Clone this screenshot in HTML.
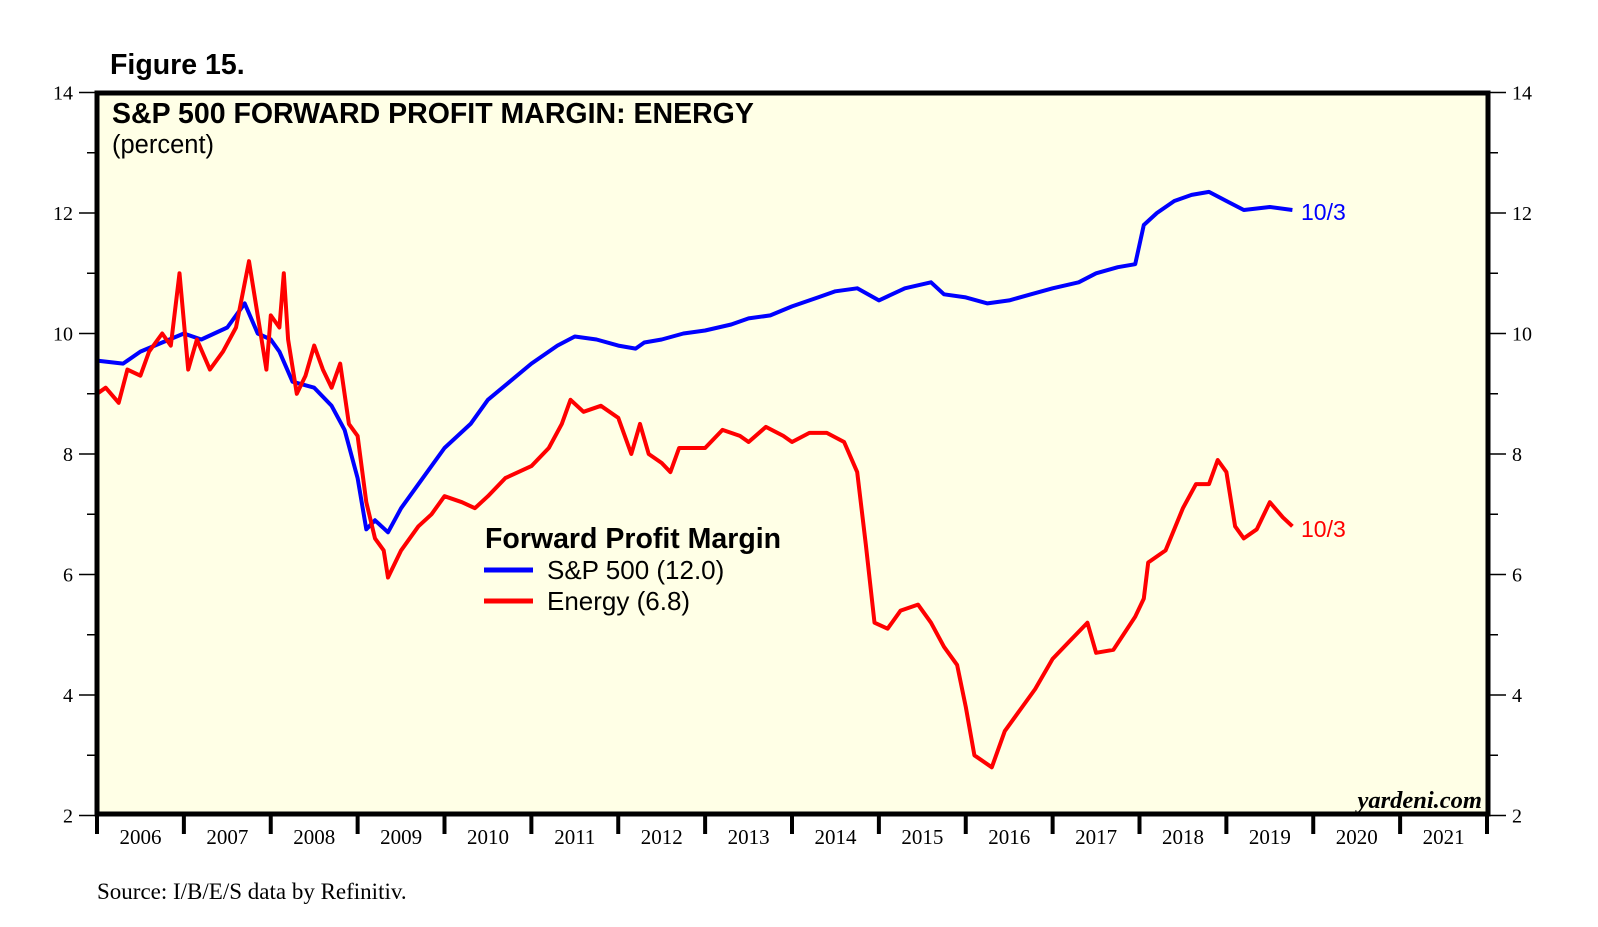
<!DOCTYPE html>
<html><head><meta charset="utf-8"><style>
html,body{margin:0;padding:0;background:#fff;}
svg{display:block;}
.sans{font-family:"Liberation Sans",Arial,sans-serif;}
.serif{font-family:"Liberation Serif","Times New Roman",serif;}
</style></head><body>
<svg id="chart" width="1598" height="927" viewBox="0 0 1598 927" xmlns="http://www.w3.org/2000/svg">
<text x="110" y="74" class="sans" font-size="28.5" font-weight="bold">Figure 15.</text>
<rect x="97" y="93" width="1391" height="721" fill="#ffffe6"/>
<g id="axes"></g>
<g id="series"></g>
<rect x="97" y="93" width="1391" height="721" fill="none" stroke="#000" stroke-width="5"/>
<text x="112" y="123" class="sans" font-size="28.5" font-weight="bold">S&amp;P 500 FORWARD PROFIT MARGIN: ENERGY</text>
<text x="112" y="153" class="sans" font-size="25.5">(percent)</text>
<text x="485" y="548" class="sans" font-size="28.5" font-weight="bold">Forward Profit Margin</text>
<line x1="484" y1="570" x2="533" y2="570" stroke="#0000ff" stroke-width="5"/>
<text x="547" y="579" class="sans" font-size="26">S&amp;P 500 (12.0)</text>
<line x1="484" y1="601" x2="533" y2="601" stroke="#ff0000" stroke-width="5"/>
<text x="547" y="610" class="sans" font-size="26">Energy (6.8)</text>
<text x="1301" y="220" class="sans" font-size="23" fill="#0000ff">10/3</text>
<text x="1301" y="537" class="sans" font-size="23" fill="#ff0000">10/3</text>
<text x="1482" y="808" class="serif" font-size="24.5" font-weight="bold" font-style="italic" text-anchor="end">yardeni.com</text>
<text x="97" y="899" class="serif" font-size="23">Source: I/B/E/S data by Refinitiv.</text>
</svg>
<script>
const yTicks = [2,4,6,8,10,12,14];
const years = [2006,2007,2008,2009,2010,2011,2012,2013,2014,2015,2016,2017,2018,2019,2020,2021];
const spDates = [2006.0,2006.3,2006.5,2006.75,2007.0,2007.2,2007.5,2007.7,2007.85,2008.0,2008.1,2008.25,2008.5,2008.7,2008.85,2009.0,2009.1,2009.2,2009.35,2009.5,2009.75,2010.0,2010.3,2010.5,2010.75,2011.0,2011.3,2011.5,2011.75,2012.0,2012.2,2012.3,2012.5,2012.75,2013.0,2013.3,2013.5,2013.75,2014.0,2014.3,2014.5,2014.75,2015.0,2015.3,2015.6,2015.75,2016.0,2016.25,2016.5,2016.75,2017.0,2017.3,2017.5,2017.75,2017.95,2018.05,2018.2,2018.4,2018.6,2018.8,2019.0,2019.2,2019.5,2019.76];
const spValues = [9.55,9.5,9.7,9.85,10.0,9.9,10.1,10.5,10.0,9.9,9.7,9.2,9.1,8.8,8.4,7.6,6.75,6.9,6.7,7.1,7.6,8.1,8.5,8.9,9.2,9.5,9.8,9.95,9.9,9.8,9.75,9.85,9.9,10.0,10.05,10.15,10.25,10.3,10.45,10.6,10.7,10.75,10.55,10.75,10.85,10.65,10.6,10.5,10.55,10.65,10.75,10.85,11.0,11.1,11.15,11.8,12.0,12.2,12.3,12.35,12.2,12.05,12.1,12.05];
const enDates = [2006.0,2006.1,2006.25,2006.35,2006.5,2006.6,2006.75,2006.85,2006.95,2007.05,2007.15,2007.3,2007.45,2007.6,2007.75,2007.85,2007.95,2008.0,2008.1,2008.15,2008.2,2008.3,2008.4,2008.5,2008.6,2008.7,2008.8,2008.9,2009.0,2009.1,2009.2,2009.3,2009.35,2009.5,2009.7,2009.85,2010.0,2010.2,2010.35,2010.5,2010.7,2011.0,2011.2,2011.35,2011.45,2011.6,2011.8,2012.0,2012.15,2012.25,2012.35,2012.5,2012.6,2012.7,2013.0,2013.2,2013.4,2013.5,2013.7,2013.9,2014.0,2014.2,2014.4,2014.6,2014.75,2014.85,2014.95,2015.1,2015.25,2015.45,2015.6,2015.75,2015.9,2016.0,2016.1,2016.3,2016.45,2016.65,2016.8,2017.0,2017.2,2017.4,2017.5,2017.7,2017.95,2018.05,2018.1,2018.3,2018.5,2018.65,2018.8,2018.9,2019.0,2019.1,2019.2,2019.35,2019.5,2019.65,2019.76];
const enValues = [9.0,9.1,8.85,9.4,9.3,9.7,10.0,9.8,11.0,9.4,9.9,9.4,9.7,10.1,11.2,10.3,9.4,10.3,10.1,11.0,9.9,9.0,9.3,9.8,9.4,9.1,9.5,8.5,8.3,7.2,6.6,6.4,5.95,6.4,6.8,7.0,7.3,7.2,7.1,7.3,7.6,7.8,8.1,8.5,8.9,8.7,8.8,8.6,8.0,8.5,8.0,7.85,7.7,8.1,8.1,8.4,8.3,8.2,8.45,8.3,8.2,8.35,8.35,8.2,7.7,6.5,5.2,5.1,5.4,5.5,5.2,4.8,4.5,3.8,3.0,2.8,3.4,3.8,4.1,4.6,4.9,5.2,4.7,4.75,5.3,5.6,6.2,6.4,7.1,7.5,7.5,7.9,7.7,6.8,6.6,6.75,7.2,6.95,6.8];

const NS = 'http://www.w3.org/2000/svg';
const X0 = 97, X1 = 1487, Y14 = 92.5, Y2 = 815.5;
function xScale(t){ return X0 + (t - 2006) / 16 * (X1 - X0); }
function yScale(v){ return Y2 - (v - 2) / 12 * (Y2 - Y14); }
function mk(tag, attrs, parent){ const e = document.createElementNS(NS, tag); for (const k in attrs) e.setAttribute(k, attrs[k]); parent.appendChild(e); return e; }
const axes = document.getElementById('axes');
const series = document.getElementById('series');

for (let v = 3; v <= 13; v += 2) {
  const y = yScale(v);
  const a = mk('line', {x1: 87, x2: 97, y1: y, y2: y, stroke: '#000', 'stroke-width': 1.5}, axes);
  
  
  const b = mk('line', {x1: 1488, x2: 1498, y1: y, y2: y, stroke: '#000', 'stroke-width': 1.5}, axes);
  
  
}
yTicks.forEach(v => {
  const y = yScale(v);
  const l = mk('line', {x1: 79, x2: 97, y1: y, y2: y, stroke: '#000', 'stroke-width': 1.5}, axes);
  
  
  const r = mk('line', {x1: 1488, x2: 1506, y1: y, y2: y, stroke: '#000', 'stroke-width': 1.5}, axes);
  
  
  const tl = mk('text', {x: 73, y: y + 7, 'text-anchor': 'end', 'font-size': 20, class: 'serif'}, axes);
  tl.textContent = v;
  
  
  const tr = mk('text', {x: 1512, y: y + 7, 'font-size': 20, class: 'serif'}, axes);
  tr.textContent = v;
  
  
});
for (let yr = 2006; yr <= 2022; yr++) {
  const x = xScale(yr);
  const t = mk('line', {x1: x, x2: x, y1: 814, y2: 834, stroke: '#000', 'stroke-width': 4}, axes);
  
  
}
years.forEach(yr => {
  const t = mk('text', {x: xScale(yr + 0.5), y: 844, 'text-anchor': 'middle', 'font-size': 21, class: 'serif'}, axes);
  t.textContent = yr;
  
  
});

function drawLine(dates, vals, color, name){
  const d = dates.map((t, i) => (i ? 'L' : 'M') + xScale(t).toFixed(1) + ' ' + yScale(vals[i]).toFixed(1)).join(' ');
  const p = mk('path', {d: d, fill: 'none', stroke: color, 'stroke-width': 4, 'stroke-linejoin': 'round'}, series);
  
  
}
drawLine(spDates, spValues, '#0000ff', 'sp500-line');
drawLine(enDates, enValues, '#ff0000', 'energy-line');
</script>
</body></html>
